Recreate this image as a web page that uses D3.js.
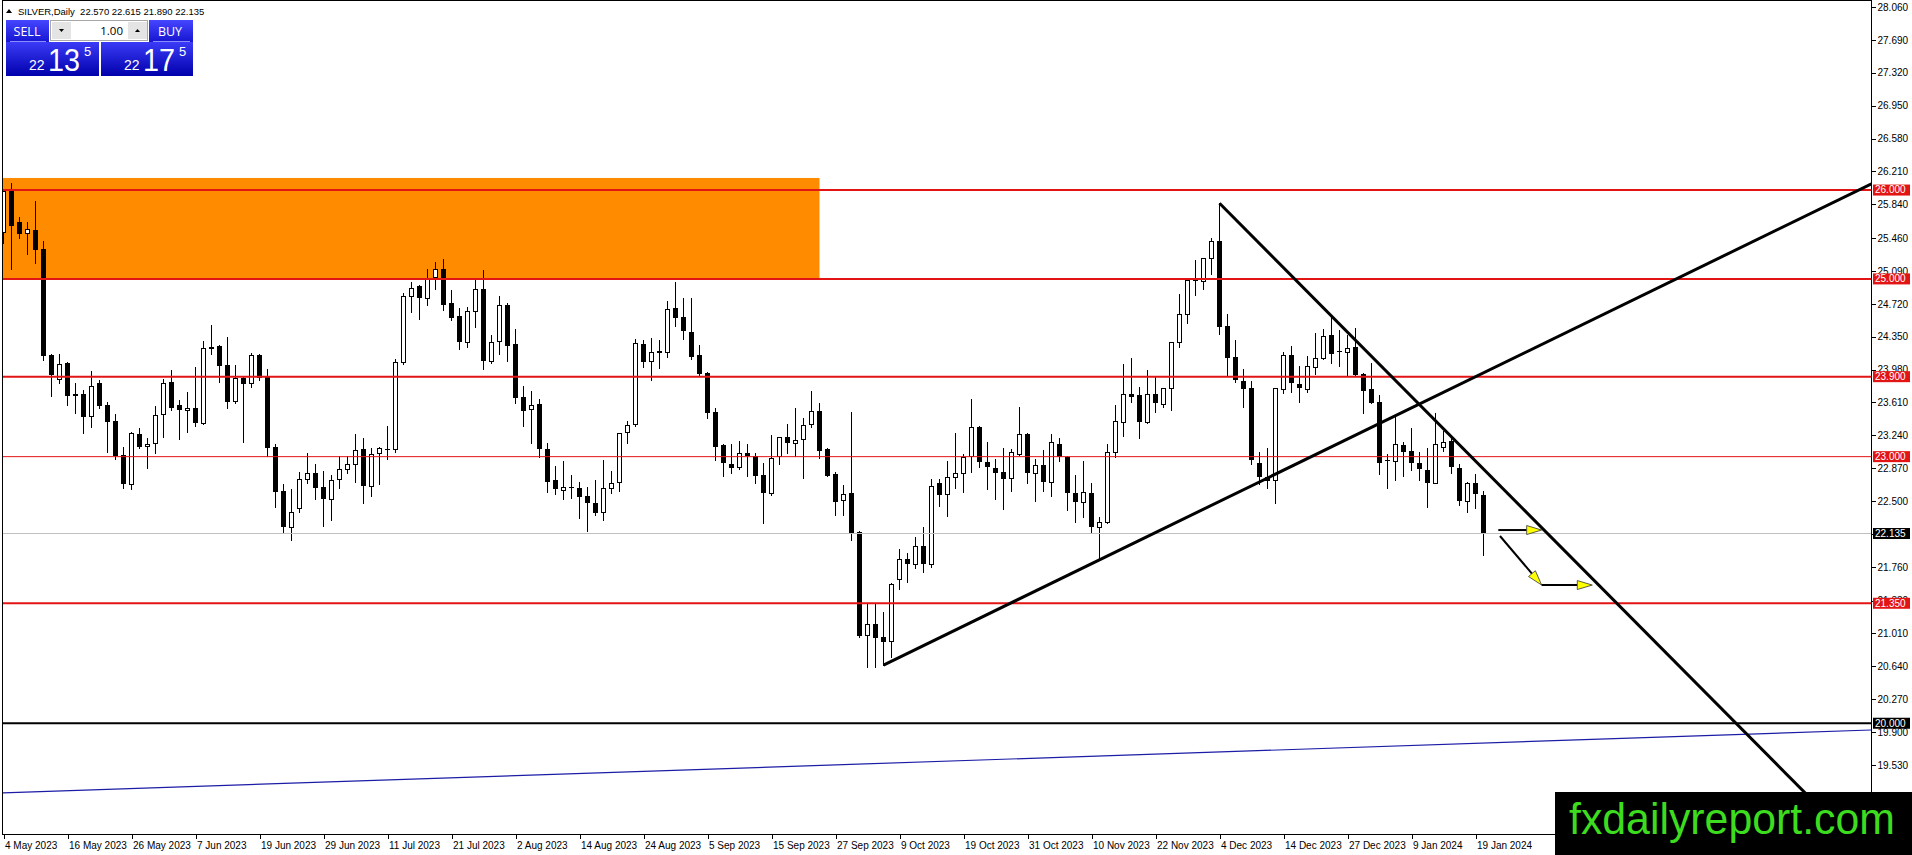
<!DOCTYPE html>
<html>
<head>
<meta charset="utf-8">
<script src="https://cdn.jsdelivr.net/npm/d3@7"></script>
<style>
  html, body { margin: 0; padding: 0; background: #fff; overflow: hidden; }
  svg { display: block; font-family: "Liberation Sans", Arial, sans-serif; }
  .axis text { font-size: 10px; fill: #000; }
  .axis line { stroke: #000; shape-rendering: crispEdges; }
</style>
</head>
<body>
<svg id="chart" width="1912" height="855"></svg>
<script>
const SYMBOL = "SILVER,Daily";
const LAST_OHLC = ["22.570", "22.615", "21.890", "22.135"];
const LOT = "1.00";
const SELL_QUOTE = ["22", "13", "5"];
const BUY_QUOTE = ["22", "17", "5"];
const WATERMARK = "fxdailyreport.com";

// daily bars, 4 May 2023 .. 22 Jan 2024 (bar index = position)
const OPEN = [
  25.524, 25.993, 25.637, 25.513, 25.547, 25.337, 24.144, 23.870, 24.054, 23.701,
  23.705, 23.461, 23.832, 23.581, 23.401, 23.015, 22.688, 23.251, 23.116, 23.150,
  23.476, 23.840, 23.581, 23.521, 23.547, 23.375, 24.234, 24.249, 24.031, 23.622,
  23.885, 23.825, 24.144, 23.911, 23.105, 22.613, 22.204, 22.418, 22.745, 22.812,
  22.662, 22.520, 22.745, 22.857, 22.913, 23.086, 22.673, 23.037, 23.086, 23.082,
  24.061, 24.812, 24.920, 24.789, 25.018, 25.108, 24.725, 24.583, 24.294, 24.643,
  24.887, 24.080, 24.305, 24.706, 24.268, 23.671, 23.532, 23.592, 23.082, 22.737,
  22.621, 22.658, 22.643, 22.557, 22.475, 22.373, 22.643, 22.718, 23.273, 23.363,
  24.268, 24.080, 24.189, 24.181, 24.676, 24.575, 24.399, 24.144, 23.945, 23.499,
  23.131, 22.913, 22.880, 23.037, 23.011, 22.793, 22.595, 23.011, 23.217, 23.150,
  23.195, 23.363, 23.514, 23.086, 22.805, 22.512, 22.595, 22.156, 20.989, 21.113,
  20.974, 20.929, 21.619, 21.844, 21.788, 21.998, 21.788, 22.700, 22.580, 22.767,
  22.812, 23.011, 23.330, 22.936, 22.868, 22.823, 22.756, 23.026, 23.251, 22.812,
  22.902, 22.718, 23.142, 23.000, 22.587, 22.493, 22.587, 22.204, 22.261, 23.048,
  23.386, 23.701, 23.694, 23.386, 23.701, 23.589, 23.769, 24.286, 24.601, 24.977,
  24.977, 25.239, 25.427, 24.470, 24.117, 23.851, 23.769, 22.925, 22.775, 22.737,
  23.757, 24.144, 23.814, 23.757, 24.005, 24.106, 24.369, 24.193, 24.181, 24.230,
  23.926, 23.757, 23.611, 22.958, 22.955, 23.131, 23.063, 22.925, 22.850, 22.707,
  23.112, 23.176, 22.868, 22.505, 22.700, 22.570
];
const HIGH = [
  26.001, 26.083, 25.693, 25.637, 25.877, 25.427, 24.151, 24.159, 24.061, 23.825,
  23.750, 23.964, 23.862, 23.619, 23.476, 23.112, 23.281, 23.326, 23.206, 23.570,
  23.870, 23.975, 23.637, 23.727, 24.012, 24.301, 24.481, 24.260, 24.343, 24.031,
  23.892, 24.170, 24.150, 23.982, 23.142, 22.692, 22.632, 22.831, 23.037, 22.917,
  22.838, 22.793, 23.011, 23.011, 23.255, 23.206, 23.093, 23.105, 23.345, 24.099,
  24.838, 24.969, 24.930, 25.112, 25.194, 25.224, 24.875, 24.669, 24.688, 24.988,
  25.100, 24.369, 24.808, 24.725, 24.436, 23.795, 23.739, 23.645, 23.150, 22.895,
  22.951, 22.793, 22.711, 22.662, 22.737, 22.962, 22.838, 23.270, 23.405, 24.324,
  24.313, 24.339, 24.313, 24.751, 24.969, 24.781, 24.781, 24.256, 23.956, 23.551,
  23.138, 23.138, 23.176, 23.138, 23.045, 22.925, 23.244, 23.225, 23.364, 23.551,
  23.431, 23.739, 23.607, 23.101, 22.823, 22.681, 23.506, 22.160, 21.357, 21.338,
  21.248, 21.582, 21.961, 21.919, 22.099, 22.204, 22.745, 22.745, 22.951, 23.262,
  23.026, 23.649, 23.340, 23.161, 22.970, 23.101, 23.086, 23.555, 23.262, 22.970,
  23.075, 23.251, 23.206, 23.011, 22.793, 22.951, 22.700, 22.324, 23.142, 23.581,
  24.039, 24.106, 23.780, 23.975, 23.900, 23.775, 24.294, 24.830, 24.995, 25.213,
  25.239, 25.464, 25.851, 24.601, 24.313, 23.986, 23.851, 23.056, 23.093, 23.775,
  24.181, 24.249, 24.020, 24.133, 24.388, 24.433, 24.575, 24.425, 24.369, 24.444,
  23.945, 24.050, 23.694, 23.026, 23.457, 23.168, 23.326, 23.056, 23.101, 23.487,
  23.289, 23.225, 22.913, 22.718, 22.805, 22.615
];
const LOW = [
  25.400, 25.112, 25.464, 25.277, 25.175, 24.087, 23.682, 23.825, 23.581, 23.487,
  23.270, 23.337, 23.547, 23.056, 22.970, 22.651, 22.632, 23.100, 22.876, 23.045,
  23.225, 23.525, 23.195, 23.281, 23.348, 23.370, 24.151, 23.836, 23.551, 23.600,
  23.168, 23.780, 23.862, 23.011, 22.437, 22.137, 22.062, 22.373, 22.700, 22.520,
  22.223, 22.287, 22.651, 22.820, 22.718, 22.475, 22.561, 22.692, 22.970, 23.056,
  24.043, 24.631, 24.549, 24.706, 24.887, 24.650, 24.538, 24.211, 24.238, 24.463,
  23.986, 24.058, 24.151, 24.076, 23.607, 23.349, 23.157, 23.000, 22.598, 22.576,
  22.523, 22.531, 22.306, 22.167, 22.343, 22.287, 22.595, 22.613, 23.157, 23.350,
  24.012, 23.862, 24.001, 24.125, 24.474, 24.324, 24.099, 23.908, 23.431, 22.962,
  22.786, 22.812, 22.857, 22.786, 22.700, 22.249, 22.568, 22.913, 23.045, 23.011,
  22.756, 23.337, 22.988, 22.780, 22.343, 22.343, 22.062, 20.974, 20.629, 20.636,
  20.655, 20.749, 21.510, 21.593, 21.751, 21.706, 21.762, 22.445, 22.336, 22.643,
  22.606, 22.831, 22.880, 22.632, 22.520, 22.407, 22.617, 23.018, 22.707, 22.505,
  22.617, 22.557, 22.955, 22.399, 22.261, 22.324, 22.148, 21.856, 22.249, 23.000,
  23.236, 23.619, 23.206, 23.380, 23.506, 23.555, 23.525, 24.230, 24.508, 24.819,
  24.887, 25.052, 24.376, 23.911, 23.836, 23.555, 22.913, 22.688, 22.643, 22.475,
  23.720, 23.724, 23.619, 23.724, 23.926, 24.095, 24.058, 24.024, 23.919, 23.907,
  23.495, 23.600, 22.801, 22.651, 22.737, 22.786, 22.850, 22.737, 22.437, 22.700,
  23.067, 22.820, 22.456, 22.381, 22.426, 21.890
];
const CLOSE = [
  25.993, 25.599, 25.502, 25.558, 25.329, 24.136, 23.919, 24.042, 23.686, 23.686,
  23.450, 23.795, 23.574, 23.393, 23.007, 22.688, 23.262, 23.105, 23.142, 23.465,
  23.825, 23.551, 23.521, 23.547, 23.375, 24.219, 24.211, 24.024, 23.611, 23.885,
  23.814, 24.140, 23.881, 23.093, 22.606, 22.212, 22.373, 22.745, 22.812, 22.651,
  22.520, 22.733, 22.857, 22.913, 23.075, 22.673, 23.026, 23.097, 23.071, 24.069,
  24.804, 24.894, 24.789, 25.007, 25.108, 24.706, 24.564, 24.294, 24.639, 24.887,
  24.080, 24.286, 24.706, 24.249, 23.664, 23.517, 23.577, 23.082, 22.718, 22.632,
  22.658, 22.643, 22.550, 22.475, 22.369, 22.643, 22.700, 23.262, 23.356, 24.275,
  24.069, 24.174, 24.170, 24.661, 24.564, 24.414, 24.125, 23.926, 23.495, 23.112,
  22.925, 22.876, 23.037, 23.011, 22.786, 22.595, 22.981, 23.217, 23.150, 23.187,
  23.352, 23.514, 23.067, 22.786, 22.493, 22.576, 22.137, 20.982, 21.113, 20.955,
  20.918, 21.563, 21.844, 21.788, 21.994, 21.788, 22.670, 22.568, 22.767, 22.812,
  23.000, 23.330, 22.936, 22.880, 22.820, 22.745, 23.056, 23.251, 22.812, 22.902,
  22.718, 23.161, 22.992, 22.595, 22.493, 22.598, 22.212, 22.261, 23.048, 23.401,
  23.701, 23.675, 23.386, 23.701, 23.600, 23.769, 24.286, 24.601, 24.988, 24.988,
  25.232, 25.430, 24.463, 24.114, 23.862, 23.757, 22.962, 22.775, 22.726, 23.769,
  24.144, 23.825, 23.769, 24.020, 24.106, 24.358, 24.151, 24.181, 24.226, 23.919,
  23.742, 23.607, 22.932, 22.947, 23.138, 23.056, 22.925, 22.857, 22.700, 23.138,
  23.168, 22.880, 22.505, 22.700, 22.576, 22.135
];

const DATE_TICK_BARS = [0, 8, 16, 24, 32, 40, 48, 56, 64, 72, 80, 88,
  96, 104, 112, 120, 128, 136, 144, 152, 160, 168, 176, 184];
const DATE_LABELS = ["4 May 2023", "16 May 2023", "26 May 2023", "7 Jun 2023",
  "19 Jun 2023", "29 Jun 2023", "11 Jul 2023", "21 Jul 2023", "2 Aug 2023",
  "14 Aug 2023", "24 Aug 2023", "5 Sep 2023", "15 Sep 2023", "27 Sep 2023",
  "9 Oct 2023", "19 Oct 2023", "31 Oct 2023", "10 Nov 2023", "22 Nov 2023",
  "4 Dec 2023", "14 Dec 2023", "27 Dec 2023", "9 Jan 2024", "19 Jan 2024"];
const PRICE_TICKS = [28.06, 27.69, 27.32, 26.95, 26.58, 26.21, 25.84, 25.46,
  25.09, 24.72, 24.35, 23.98, 23.61, 23.24, 22.87, 22.5, 22.13, 21.76, 21.38,
  21.01, 20.64, 20.27, 19.9, 19.53];

// chart objects, in (bar, price)
const RED_LEVELS = [26.0, 25.0, 23.9, 21.35];
const THIN_RED_LEVELS = [23.0];
const BLACK_LEVELS = [20.0];
const BID = 22.135;
const ZONE_BARS = [-3, 102];
const ZONE_PRICES = [26.136, 25.0];
const UP_TREND = [[110, 20.655], [233.5, 26.07]];
const DOWN_TREND = [[152, 25.851], [233.5, 18.465]];
const BLUE_TREND = [[-0.4, 19.215], [233.5, 19.924]];
const ARROWS = [
  [[186.85, 22.174], [192.27, 22.174]],
  [[187.06, 22.107], [192.27, 21.555]],
  [[192.27, 21.555], [198.6, 21.555]]
];

const svg = d3.select("#chart");
const PLOT = { left: 3, right: 1871, top: 1, bottom: 834 };
const RED = "#e31414";

const x = d3.scaleLinear().domain([0, 233.5]).range([3.5, 1871.5]);
const y = d3.scaleLinear().domain([19.53, 28.06]).range([765, 7]);

svg.append("rect").attr("width", 1912).attr("height", 855).attr("fill", "#fff");

svg.append("defs").append("clipPath").attr("id", "plot-clip")
  .append("rect")
  .attr("x", PLOT.left).attr("y", PLOT.top)
  .attr("width", PLOT.right - PLOT.left).attr("height", PLOT.bottom - PLOT.top);

const plot = svg.append("g").attr("clip-path", "url(#plot-clip)");

// orange supply zone
plot.append("rect")
  .attr("x", x(ZONE_BARS[0])).attr("width", x(ZONE_BARS[1]) - x(ZONE_BARS[0]))
  .attr("y", y(ZONE_PRICES[0])).attr("height", y(ZONE_PRICES[1]) - y(ZONE_PRICES[0]))
  .attr("fill", "#ff8c00");

// candles
const bars = CLOSE.map((c, i) => ({ i, o: OPEN[i], h: HIGH[i], l: LOW[i], c }));
const cg = plot.append("g").attr("shape-rendering", "crispEdges");
cg.append("g").selectAll("line").data(bars).join("line")
  .attr("x1", d => x(d.i)).attr("x2", d => x(d.i))
  .attr("y1", d => Math.round(y(d.h))).attr("y2", d => Math.round(y(d.l)) + 1)
  .attr("stroke", "#000");

const bodyTop = d => Math.round(y(Math.max(d.o, d.c)));
const bodyBot = d => Math.round(y(Math.min(d.o, d.c)));
const hollow = d => d.c > d.o && bodyBot(d) - bodyTop(d) >= 2;
cg.append("g").selectAll("rect").data(bars).join("rect")
  .attr("x", d => hollow(d) ? x(d.i) - 2 : x(d.i) - 2.5)
  .attr("width", d => hollow(d) ? 4 : 5)
  .attr("y", d => hollow(d) ? bodyTop(d) + 0.5 : bodyTop(d))
  .attr("height", d => hollow(d) ? bodyBot(d) - bodyTop(d) : Math.max(1, bodyBot(d) - bodyTop(d)))
  .attr("fill", d => hollow(d) ? "#fff" : "#000")
  .attr("stroke", d => hollow(d) ? "#000" : "none");

// horizontal levels
const hline = (price, color, width) => plot.append("line")
  .attr("x1", PLOT.left).attr("x2", PLOT.right)
  .attr("y1", y(price)).attr("y2", y(price))
  .attr("stroke", color).attr("stroke-width", width);
hline(BID, "#c0c0c0", 1);
RED_LEVELS.forEach(p => hline(p, RED, 2));
THIN_RED_LEVELS.forEach(p => hline(p, RED, 1));
BLACK_LEVELS.forEach(p => hline(p, "#000", 2));

// trend lines
const seg = pts => d3.line().x(d => x(d[0])).y(d => y(d[1]))(pts);
plot.append("path").attr("d", seg(BLUE_TREND)).attr("stroke", "#1c1ca6")
  .attr("stroke-width", 1.2).attr("fill", "none");
plot.append("path").attr("d", seg(UP_TREND)).attr("stroke", "#000")
  .attr("stroke-width", 3).attr("fill", "none");
plot.append("path").attr("d", seg(DOWN_TREND)).attr("stroke", "#000")
  .attr("stroke-width", 3).attr("fill", "none");

// arrows with yellow heads
ARROWS.forEach(([a, b]) => {
  const x1 = x(a[0]), y1 = y(a[1]), x2 = x(b[0]), y2 = y(b[1]);
  const len = Math.hypot(x2 - x1, y2 - y1);
  const ux = (x2 - x1) / len, uy = (y2 - y1) / len;
  const L = 15, Wd = 4.5;
  const bx = x2 - ux * L, by = y2 - uy * L;
  plot.append("line").attr("x1", x1).attr("y1", y1).attr("x2", bx).attr("y2", by)
    .attr("stroke", "#000").attr("stroke-width", 2);
  plot.append("polygon")
    .attr("points", [[x2, y2], [bx - uy * Wd, by + ux * Wd], [bx + uy * Wd, by - ux * Wd]].join(" "))
    .attr("fill", "#ffff00").attr("stroke", "#333").attr("stroke-width", 0.8);
});

// frame
svg.append("rect")
  .attr("x", PLOT.left - 0.5).attr("y", PLOT.top - 0.5)
  .attr("width", PLOT.right - PLOT.left + 1).attr("height", PLOT.bottom - PLOT.top + 1)
  .attr("fill", "none").attr("stroke", "#000").attr("shape-rendering", "crispEdges");

// price axis
svg.append("g").attr("class", "axis")
  .attr("transform", `translate(${PLOT.right + 0.5},0)`)
  .call(d3.axisRight(y).tickValues(PRICE_TICKS).tickFormat(d3.format(".3f"))
    .tickSize(4).tickPadding(2))
  .call(g => g.select(".domain").remove());

// time axis
svg.append("g").attr("class", "axis")
  .attr("transform", `translate(0,${PLOT.bottom + 0.5})`)
  .call(d3.axisBottom(x).tickValues(DATE_TICK_BARS)
    .tickFormat((d, i) => DATE_LABELS[i]).tickSize(4).tickPadding(3))
  .call(g => g.select(".domain").remove())
  .call(g => g.selectAll("text").attr("text-anchor", "start").attr("x", 1));

// level labels on the price scale
const levelLabel = (price, bg) => {
  const g = svg.append("g").attr("transform", `translate(${PLOT.right + 1},${y(price)})`);
  g.append("rect").attr("x", 1).attr("y", -5.5).attr("width", 37).attr("height", 11)
    .attr("fill", bg);
  g.append("text").attr("x", 3).attr("dy", "0.34em").attr("font-size", 10)
    .attr("fill", "#fff").text(d3.format(".3f")(price));
};
[...RED_LEVELS, ...THIN_RED_LEVELS].forEach(p => levelLabel(p, RED));
BLACK_LEVELS.forEach(p => levelLabel(p, "#000"));
levelLabel(BID, "#000");

// header line
svg.append("path").attr("d", "M6,13 L9,9 L12,13 Z").attr("fill", "#000");
svg.append("text").attr("x", 18).attr("y", 15).attr("font-size", 9.5).attr("fill", "#000")
  .attr("xml:space", "preserve")
  .text(`${SYMBOL}  ${LAST_OHLC.join(" ")}`);

// one-click trading panel
const defs = svg.select("defs");
const grad = defs.append("linearGradient").attr("id", "panel-grad")
  .attr("x1", 0).attr("x2", 0).attr("y1", 0).attr("y2", 1);
grad.append("stop").attr("offset", "0%").attr("stop-color", "#3b3bf7");
grad.append("stop").attr("offset", "100%").attr("stop-color", "#0000ac");
const grad2 = defs.append("linearGradient").attr("id", "btn-grad")
  .attr("x1", 0).attr("x2", 0).attr("y1", 0).attr("y2", 1);
grad2.append("stop").attr("offset", "0%").attr("stop-color", "#4646ff");
grad2.append("stop").attr("offset", "100%").attr("stop-color", "#1616d2");

const panel = svg.append("g").attr("font-family", "'Open Sans', 'Noto Sans', sans-serif");
panel.append("rect").attr("x", 6).attr("y", 20).attr("width", 43).attr("height", 22).attr("fill", "url(#btn-grad)");
panel.append("rect").attr("x", 149).attr("y", 20).attr("width", 44).attr("height", 22).attr("fill", "url(#btn-grad)");
panel.append("text").attr("x", 27).attr("y", 36).attr("text-anchor", "middle")
  .attr("font-size", 12.5).attr("fill", "#fff").text("SELL");
panel.append("text").attr("x", 170).attr("y", 36).attr("text-anchor", "middle")
  .attr("font-size", 12.5).attr("fill", "#fff").text("BUY");

panel.append("rect").attr("x", 50.5).attr("y", 20.5).attr("width", 97).attr("height", 20)
  .attr("fill", "#fff").attr("stroke", "#a8a8a8");
panel.append("rect").attr("x", 52).attr("y", 22).attr("width", 19).attr("height", 17).attr("fill", "#e4e4e4");
panel.append("rect").attr("x", 128).attr("y", 22).attr("width", 19).attr("height", 17).attr("fill", "#e4e4e4");
panel.append("path").attr("d", "M59,29 L64,29 L61.5,32 Z").attr("fill", "#000");
panel.append("path").attr("d", "M135,32 L140,32 L137.5,29 Z").attr("fill", "#000");
panel.append("text").attr("x", 123).attr("y", 35).attr("text-anchor", "end")
  .attr("font-size", 11.5).attr("fill", "#000").text(LOT);

panel.append("rect").attr("x", 6).attr("y", 42).attr("width", 93).attr("height", 34).attr("fill", "url(#panel-grad)");
panel.append("rect").attr("x", 101).attr("y", 42).attr("width", 92).attr("height", 34).attr("fill", "url(#panel-grad)");
panel.append("line").attr("x1", 10).attr("x2", 46).attr("y1", 41.5).attr("y2", 41.5).attr("stroke", "#8c8cff");
panel.append("line").attr("x1", 153).attr("x2", 190).attr("y1", 41.5).attr("y2", 41.5).attr("stroke", "#8c8cff");

const quote = (q, x0) => {
  panel.append("text").attr("x", x0).attr("y", 70).attr("font-size", 14)
    .attr("font-family", "'Liberation Sans', Arial, sans-serif").attr("fill", "#fff").text(q[0]);
  panel.append("text").attr("x", x0 + 19).attr("y", 71).attr("font-size", 32)
    .attr("font-family", "'Liberation Sans', Arial, sans-serif")
    .attr("textLength", 32).attr("lengthAdjust", "spacingAndGlyphs")
    .attr("fill", "#fff").text(q[1]);
  panel.append("text").attr("x", x0 + 55).attr("y", 56).attr("font-size", 13)
    .attr("font-family", "'Liberation Sans', Arial, sans-serif").attr("fill", "#fff").text(q[2]);
};
quote(SELL_QUOTE, 29);
quote(BUY_QUOTE, 124);

// watermark
svg.append("rect").attr("x", 1555).attr("y", 792).attr("width", 357).attr("height", 63).attr("fill", "#000");
svg.append("text").attr("x", 1569).attr("y", 834).attr("font-size", 44)
  .attr("font-family", "'Liberation Sans', Arial, sans-serif")
  .attr("textLength", 326).attr("lengthAdjust", "spacingAndGlyphs")
  .attr("fill", "#3ddc1f").text(WATERMARK);
</script>
</body>
</html>
